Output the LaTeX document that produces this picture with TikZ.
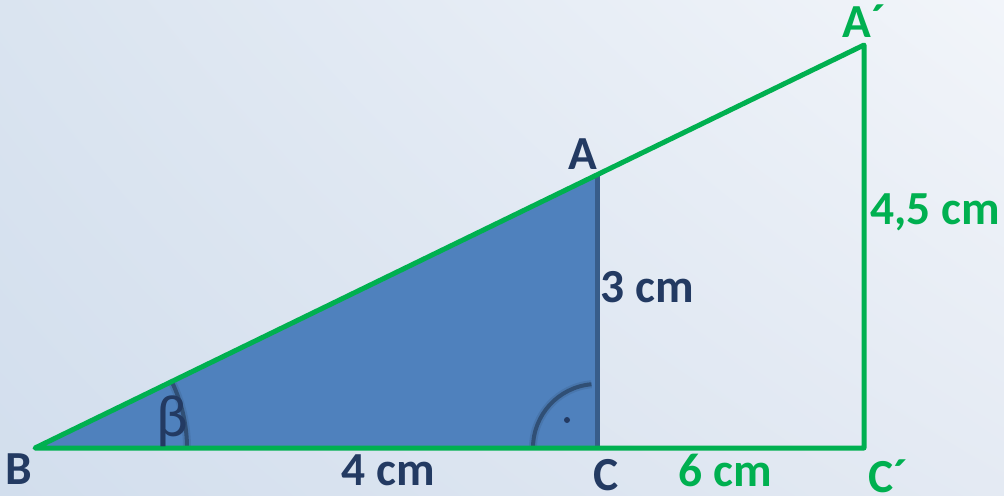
\documentclass[tikz,border=0pt]{standalone}
\usepackage{fontspec}
\setmainfont{Carlito}
\usetikzlibrary{positioning, shadings}
\definecolor{linegreen}{RGB}{0,176,80}
\definecolor{fillblue}{RGB}{79,129,189}
\definecolor{edgeblue}{RGB}{56,93,138}
\definecolor{textblue}{RGB}{35,58,98}
\definecolor{bgul}{RGB}{218,228,240}
\definecolor{bgur}{RGB}{242,245,250}
\definecolor{bgll}{RGB}{210,222,237}
\definecolor{bglr}{RGB}{228,234,243}

\begin{document}
\begin{tikzpicture}[
    x=0.02cm, y=0.02cm,
    greenline/.style={draw=linegreen, line width=0.1cm, line join=round, line cap=round},
    edgeline/.style={draw=edgeblue, line width=0.1cm},
    anglearc/.style={draw=edgeblue!85!black, line width=0.08cm},
    arcshadow/.style={draw=edgeblue!60!black, line width=0.16cm, opacity=0.15},
    lbl/.style={inner sep=0pt, font=\fontsize{27}{32}\selectfont\bfseries},
    vertexlbl/.style={lbl, text=textblue},
    bluelbl/.style={lbl, text=textblue},
    greenlbl/.style={lbl, text=linegreen}
]

% background
\shade[upper left=bgul, upper right=bgur, lower left=bgll, lower right=bglr]
    (0,0) rectangle (1004,495);
\useasboundingbox (0,0) rectangle (1004,495);

% vertices
\coordinate (B) at (35,47);
\coordinate (C) at (597,47);
\coordinate (A) at (597,320);
\coordinate (Cp) at (864,47);
\coordinate (Ap) at (864,450);

% small triangle
\fill[fillblue] (B) -- (C) -- (A) -- cycle;
\draw[edgeline] (C) -- (A);

% angle marks
\draw[arcshadow] ([shift={(0:152)}]B) arc[start angle=0, end angle=25.9, radius=152];
\draw[anglearc] ([shift={(0:152)}]B) arc[start angle=0, end angle=25.9, radius=152];
\draw[arcshadow] ([shift={(180:64)}]C) arc[start angle=180, end angle=95, radius=64];
\draw[anglearc] ([shift={(180:64)}]C) arc[start angle=180, end angle=95, radius=64];
\node[circle, fill=textblue, inner sep=0pt, minimum size=0.12cm] (rdot) at (567,75) {};

% large triangle
\draw[greenline] (B) -- (Cp) -- (Ap) -- cycle;

% vertex labels
\node[vertexlbl, below left=0.1cm and 0.06cm of B] (lblB) {B};
\node[vertexlbl, above left=0.1cm and -0.02cm of A] (lblA) {A};
\node[vertexlbl, below right=0.22cm and -0.08cm of C] (lblC) {C};
\node[greenlbl, above=0.14cm of Ap] (lblAp) {A´};
\node[greenlbl, below right=0.22cm and 0.08cm of Cp] (lblCp) {C´};

% lengths
\node[bluelbl] (lenBC) at (388,25) {4 cm};
\node[bluelbl] (lenAC) at (647,208) {3 cm};
\node[greenlbl] (lenCCp) at (725,25) {6 cm};
\node[greenlbl] (lenApCp) at (935,283) {4,5 cm};

% angle name
\node[text=textblue, inner sep=0pt, font=\fontsize{34}{38}\selectfont] (beta) at (172,74) {β};

\end{tikzpicture}
\end{document}
